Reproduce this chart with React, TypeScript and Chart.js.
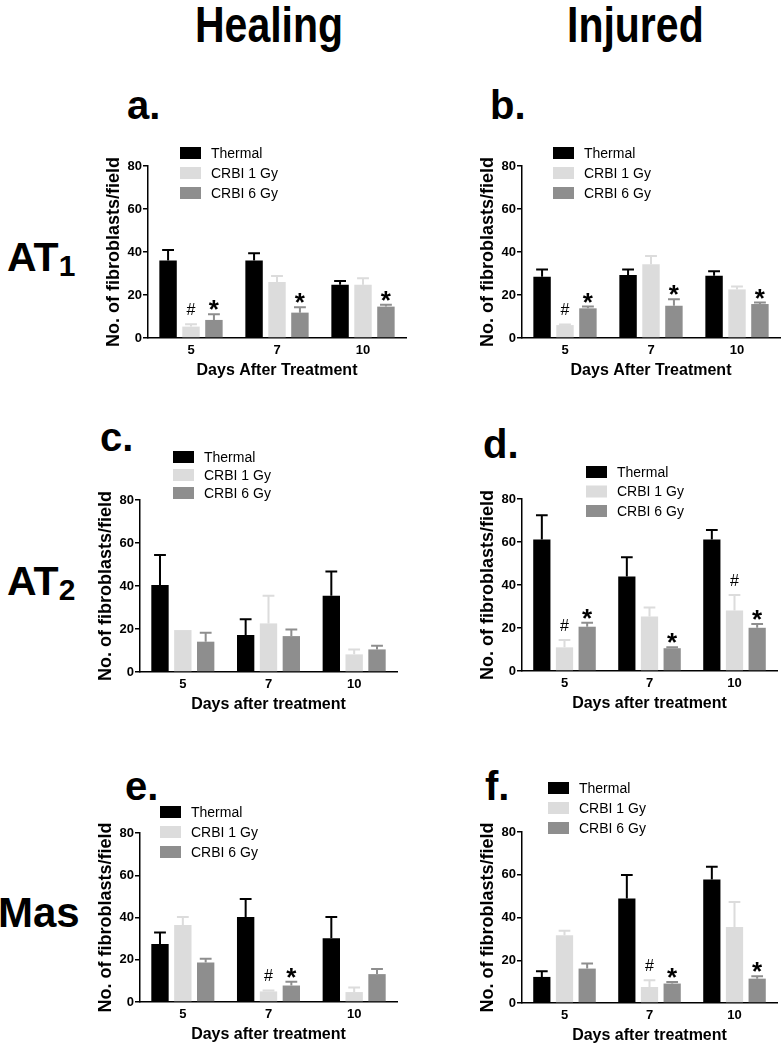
import React, { useEffect, useRef } from "react";
import { Chart, registerables } from "chart.js";
Chart.register(...registerables);

const FONT = "'Liberation Sans', Arial, Helvetica, sans-serif";

const days = ["5", "7", "10"];
const seriesNames = ["Thermal", "CRBI 1 Gy", "CRBI 6 Gy"];
const seriesColors = ["#000000", "#dcdcdc", "#8e8e8e"];
const yTicks = [0, 20, 40, 60, 80];
const yTitle = "No. of fibroblasts/field";

// a. AT1 healing
const aThermal = [36.0, 36.0, 24.8];
const aThermalErr = [4.9, 3.4, 1.7];
const aCrbi1 = [5.3, 26.0, 24.8];
const aCrbi1Err = [1.1, 2.8, 3.0];
const aCrbi6 = [8.4, 11.8, 14.6];
const aCrbi6Err = [2.6, 2.5, 0.9];
const aMarks1 = ["#", "", ""];
const aMarks6 = ["*", "*", "*"];

// b. AT1 injured
const bThermal = [28.5, 29.3, 29.0];
const bThermalErr = [3.4, 2.6, 2.0];
const bCrbi1 = [6.0, 34.3, 22.6];
const bCrbi1Err = [0.3, 3.8, 1.3];
const bCrbi6 = [13.8, 15.0, 15.8];
const bCrbi6Err = [0.8, 3.0, 0.7];
const bMarks1 = ["#", "", ""];
const bMarks6 = ["*", "*", "*"];

// c. AT2 healing
const cThermal = [40.5, 17.2, 35.5];
const cThermalErr = [13.9, 7.3, 11.2];
const cCrbi1 = [19.5, 22.6, 8.2];
const cCrbi1Err = [0, 12.9, 2.3];
const cCrbi6 = [14.1, 16.7, 10.5];
const cCrbi6Err = [4.2, 3.1, 1.7];
const cMarks1 = ["", "", ""];
const cMarks6 = ["", "", ""];

// d. AT2 injured
const dThermal = [61.2, 43.9, 61.2];
const dThermalErr = [11.3, 9.0, 4.4];
const dCrbi1 = [11.0, 25.3, 28.1];
const dCrbi1Err = [3.4, 4.2, 7.2];
const dCrbi6 = [20.6, 10.6, 20.1];
const dCrbi6Err = [1.9, 0.4, 1.8];
const dMarks1 = ["#", "", "#"];
const dMarks6 = ["*", "*", "*"];

// e. Mas healing
const eThermal = [27.5, 40.2, 30.2];
const eThermalErr = [5.4, 8.6, 10.0];
const eCrbi1 = [36.5, 5.0, 4.7];
const eCrbi1Err = [3.7, 0.5, 2.2];
const eCrbi6 = [18.7, 7.8, 13.2];
const eCrbi6Err = [1.8, 1.8, 2.4];
const eMarks1 = ["", "#", ""];
const eMarks6 = ["", "*", ""];

// f. Mas injured
const fThermal = [12.2, 48.9, 57.8];
const fThermalErr = [2.7, 11.0, 6.0];
const fCrbi1 = [31.7, 7.5, 35.6];
const fCrbi1Err = [2.1, 3.1, 11.7];
const fCrbi6 = [16.1, 9.1, 11.4];
const fCrbi6Err = [2.4, 0.7, 1.1];
const fMarks1 = ["", "#", ""];
const fMarks6 = ["", "*", "*"];

type PanelCfg = {
  L: number; R: number; T: number; B: number;
  legX: number; legY: number; legGap: number;
  xTitle: string;
  values: number[][]; errors: number[][]; marks: string[][];
};

const extrasPlugin = {
  id: "extras",
  afterDatasetsDraw(chart: any) {
    const ctx = chart.ctx;
    const yScale = chart.scales.y;
    chart.data.datasets.forEach((ds: any, i: number) => {
      const meta = chart.getDatasetMeta(i);
      meta.data.forEach((bar: any, j: number) => {
        const v = ds.data[j];
        const e = ds.errors[j];
        const top = yScale.getPixelForValue(v + e);
        const half = bar.width * 0.34;
        ctx.save();
        ctx.strokeStyle = ds.backgroundColor;
        ctx.lineWidth = 2;
        if (e > 0) {
          ctx.beginPath();
          ctx.moveTo(bar.x, bar.y);
          ctx.lineTo(bar.x, top);
          ctx.moveTo(bar.x - half, top);
          ctx.lineTo(bar.x + half, top);
          ctx.stroke();
        }
        const m = ds.marks[j];
        if (m) {
          ctx.fillStyle = "#000";
          ctx.textAlign = "center";
          ctx.textBaseline = "alphabetic";
          if (m === "#") {
            ctx.font = `16px ${FONT}`;
            ctx.fillText(m, bar.x, top - 9);
          } else {
            ctx.font = `bold 26px ${FONT}`;
            ctx.fillText(m, bar.x, top + 4);
          }
        }
        ctx.restore();
      });
    });
  },
  afterDraw(chart: any, _args: any, opts: any) {
    const ctx = chart.ctx;
    const area = chart.chartArea;
    ctx.save();
    chart.data.datasets.forEach((ds: any, i: number) => {
      const cy = area.top + opts.legY + i * opts.legGap;
      const x = area.left + opts.legX;
      ctx.fillStyle = ds.backgroundColor;
      ctx.fillRect(x, cy - 6, 21, 12);
      ctx.fillStyle = "#000";
      ctx.font = `14px ${FONT}`;
      ctx.textAlign = "left";
      ctx.textBaseline = "middle";
      ctx.fillText(ds.label, x + 31, cy + 1);
    });
    ctx.restore();
  },
};

function Panel({ cfg }: { cfg: PanelCfg }) {
  const ref = useRef<HTMLCanvasElement>(null);
  const padTop = 60, yW = 55, xH = 45, padR = 2;
  const left = cfg.L - yW;
  const top = cfg.T - padTop;
  const width = cfg.R - cfg.L + yW + padR;
  const height = padTop + (cfg.B - cfg.T) + xH;
  useEffect(() => {
    const chart = new Chart(ref.current as HTMLCanvasElement, {
      type: "bar",
      data: {
        labels: days,
        datasets: seriesNames.map((n, i) => ({
          label: n,
          data: cfg.values[i],
          backgroundColor: seriesColors[i],
          errors: cfg.errors[i],
          marks: cfg.marks[i],
          barPercentage: 0.76,
          categoryPercentage: 0.8,
          borderWidth: 0,
        })) as any,
      },
      options: {
        responsive: false,
        animation: false,
        layout: { padding: { top: padTop, right: padR, left: 0, bottom: 0 } },
        plugins: {
          legend: { display: false },
          tooltip: { enabled: false },
          extras: { legX: cfg.legX, legY: cfg.legY, legGap: cfg.legGap },
        } as any,
        scales: {
          x: {
            offset: true,
            grid: { display: false, drawTicks: false },
            border: { display: true, color: "#000", width: 1.5 },
            ticks: { color: "#000", font: { family: FONT, size: 13, weight: "bold" }, padding: 5 },
            title: {
              display: true, text: cfg.xTitle, color: "#000",
              font: { family: FONT, size: 16, weight: "bold" },
              padding: { top: 0, bottom: 3 },
            },
            afterFit: (s: any) => { s.height = xH; },
          },
          y: {
            min: 0, max: 80,
            afterBuildTicks: (s: any) => { s.ticks = yTicks.map((v) => ({ value: v })); },
            ticks: { color: "#000", font: { family: FONT, size: 13, weight: "bold" }, padding: 1 },
            grid: { display: true, drawOnChartArea: false, drawTicks: true, tickLength: 5, color: "#000", lineWidth: 1.5 },
            border: { display: true, color: "#000", width: 1.5 },
            title: {
              display: true, text: yTitle, color: "#000",
              font: { family: FONT, size: 18, weight: "bold" },
              padding: { top: 10, bottom: 0 },
            },
            afterFit: (s: any) => { s.width = yW; },
          },
        } as any,
      },
      plugins: [extrasPlugin as any],
    });
    return () => chart.destroy();
  }, []);
  return (
    <canvas
      ref={ref}
      width={width}
      height={height}
      style={{ position: "absolute", left, top, width, height }}
    />
  );
}

const panels: PanelCfg[] = [
  { L: 148, R: 406, T: 166, B: 338, legX: 32, legY: -13, legGap: 20, xTitle: "Days After Treatment",
    values: [aThermal, aCrbi1, aCrbi6], errors: [aThermalErr, aCrbi1Err, aCrbi6Err], marks: [["", "", ""], aMarks1, aMarks6] },
  { L: 522, R: 780, T: 166, B: 338, legX: 31, legY: -13, legGap: 20, xTitle: "Days After Treatment",
    values: [bThermal, bCrbi1, bCrbi6], errors: [bThermalErr, bCrbi1Err, bCrbi6Err], marks: [["", "", ""], bMarks1, bMarks6] },
  { L: 140, R: 397, T: 500, B: 672, legX: 33, legY: -43, legGap: 18, xTitle: "Days after treatment",
    values: [cThermal, cCrbi1, cCrbi6], errors: [cThermalErr, cCrbi1Err, cCrbi6Err], marks: [["", "", ""], cMarks1, cMarks6] },
  { L: 522, R: 777, T: 499, B: 671, legX: 64, legY: -27, legGap: 19.5, xTitle: "Days after treatment",
    values: [dThermal, dCrbi1, dCrbi6], errors: [dThermalErr, dCrbi1Err, dCrbi6Err], marks: [["", "", ""], dMarks1, dMarks6] },
  { L: 140, R: 397, T: 833, B: 1002, legX: 20, legY: -21, legGap: 20, xTitle: "Days after treatment",
    values: [eThermal, eCrbi1, eCrbi6], errors: [eThermalErr, eCrbi1Err, eCrbi6Err], marks: [["", "", ""], eMarks1, eMarks6] },
  { L: 522, R: 777, T: 832, B: 1003, legX: 26, legY: -44, legGap: 20, xTitle: "Days after treatment",
    values: [fThermal, fCrbi1, fCrbi6], errors: [fThermalErr, fCrbi1Err, fCrbi6Err], marks: [["", "", ""], fMarks1, fMarks6] },
];

function Txt({ x, baseline, size, bold = true, children, sx }: any) {
  return (
    <div
      style={{
        position: "absolute", left: x, top: baseline - 0.8465 * size,
        fontSize: size, lineHeight: 1, fontFamily: FONT,
        fontWeight: bold ? "bold" : "normal", color: "#000", whiteSpace: "nowrap",
        transform: sx ? `scaleX(${sx})` : undefined, transformOrigin: "left top",
      }}
    >
      {children}
    </div>
  );
}

export default function App() {
  return (
    <div style={{ position: "absolute", left: 0, top: 0, width: 782, height: 1050, overflow: "hidden", background: "#fff" }}>
      <Txt x={195} baseline={42} size={50} sx={0.82}>Healing</Txt>
      <Txt x={567} baseline={42} size={50} sx={0.82}>Injured</Txt>
      <Txt x={127} baseline={119} size={40}>a.</Txt>
      <Txt x={490} baseline={119} size={40}>b.</Txt>
      <Txt x={100} baseline={451} size={40}>c.</Txt>
      <Txt x={483} baseline={458} size={40}>d.</Txt>
      <Txt x={125} baseline={800} size={40}>e.</Txt>
      <Txt x={485} baseline={800} size={40}>f.</Txt>
      <Txt x={7} baseline={272} size={41}>AT<span style={{ fontSize: 30, verticalAlign: -5 }}>1</span></Txt>
      <Txt x={7} baseline={596} size={41}>AT<span style={{ fontSize: 30, verticalAlign: -5 }}>2</span></Txt>
      <Txt x={-2} baseline={928} size={42}>Mas</Txt>
      {panels.map((p, i) => (
        <Panel key={i} cfg={p} />
      ))}
    </div>
  );
}
